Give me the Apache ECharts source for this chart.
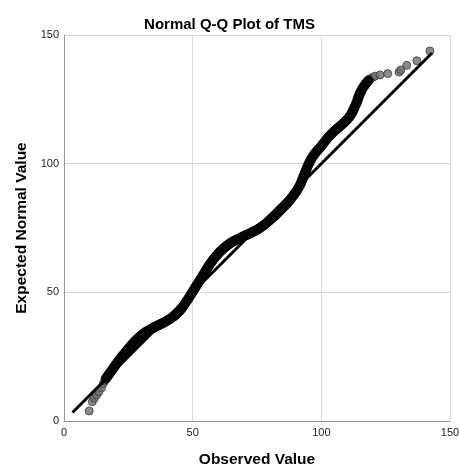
<!DOCTYPE html>
<html><head><meta charset="utf-8">
<script src="https://cdn.jsdelivr.net/npm/echarts@6/dist/echarts.min.js"></script>
<style>html,body{margin:0;padding:0;background:#fff;overflow:hidden}#c{width:459px;height:466px}</style>
</head><body><div id="c"></div>
<script>
// Dense body of the Q-Q plot: observed values (x) and expected normal values (y)
var denseObserved = [16.3,16.8,17.3,17.8,18.3,18.8,19.3,19.8,20.3,20.8,21.3,21.8,22.3,22.8,23.3,23.8,24.3,24.8,25.3,25.8,26.3,26.8,27.3,27.8,28.4,29.0,29.6,30.2,30.8,31.4,32.0,32.7,33.4,34.1,34.8,35.5,36.2,36.9,37.6,38.3,39.0,39.7,40.4,41.1,41.8,42.5,43.2,43.8,44.4,45.0,45.6,46.1,46.6,47.1,47.6,48.1,48.6,49.1,49.6,50.1,50.6,51.1,51.6,52.1,52.6,53.1,53.6,54.1,54.6,55.1,55.6,56.1,56.6,57.1,57.6,58.1,58.7,59.3,59.9,60.5,61.1,61.7,62.4,63.1,63.8,64.5,65.2,66.0,66.8,67.6,68.4,69.2,70.0,70.8,71.6,72.4,73.2,74.0,74.8,75.6,76.4,77.1,77.8,78.5,79.2,79.9,80.6,81.3,82.0,82.7,83.4,84.1,84.8,85.5,86.2,86.9,87.6,88.2,88.8,89.4,90.0,90.5,91.0,91.5,92.0,92.4,92.8,93.2,93.6,94.0,94.4,94.8,95.3,95.8,96.3,96.9,97.5,98.1,98.8,99.5,100.2,100.9,101.6,102.3,103.0,103.7,104.4,105.1,105.8,106.5,107.2,107.9,108.6,109.3,110.0,110.6,111.2,111.7,112.2,112.6,113.0,113.4,113.8,114.1,114.4,114.7,115.0,115.4,115.8,116.3,116.8,117.3,117.8,118.3];
var denseExpected = [16.5,17.2,17.9,18.6,19.3,20.0,20.7,21.4,22.1,22.8,23.5,24.1,24.8,25.4,26.0,26.6,27.2,27.8,28.4,29.0,29.6,30.2,30.7,31.2,31.8,32.4,32.9,33.4,33.9,34.3,34.7,35.1,35.5,35.9,36.3,36.6,37.0,37.3,37.7,38.0,38.4,38.8,39.2,39.6,40.1,40.6,41.1,41.7,42.3,42.9,43.6,44.3,45.0,45.7,46.5,47.2,48.0,48.8,49.6,50.4,51.2,52.0,52.8,53.6,54.4,55.2,56.0,56.8,57.6,58.4,59.2,60.0,60.8,61.5,62.2,62.9,63.6,64.3,65.0,65.6,66.2,66.8,67.4,68.0,68.5,69.0,69.5,69.9,70.3,70.7,71.1,71.5,71.9,72.3,72.6,73.0,73.4,73.8,74.2,74.7,75.2,75.7,76.2,76.8,77.4,78.0,78.6,79.2,79.8,80.5,81.2,81.9,82.6,83.3,84.0,84.8,85.6,86.4,87.2,88.0,88.8,89.6,90.4,91.3,92.3,93.3,94.3,95.3,96.3,97.3,98.3,99.3,100.3,101.3,102.2,103.1,103.9,104.7,105.5,106.2,107.1,108.0,108.9,109.8,110.6,111.3,112.0,112.7,113.3,113.9,114.5,115.1,115.7,116.4,117.1,117.8,118.6,119.4,120.3,121.2,122.1,123.0,123.9,124.8,125.7,126.5,127.3,128.1,128.9,129.7,130.4,131.1,131.7,132.3];
// Sparse tails (individual cases)
var tailObserved = [9.8,11.0,11.8,12.7,13.6,14.6,15.3,15.8,118.9,119.9,120.9,122.8,125.8,130.2,130.9,133.2,137.1,142.2];
var tailExpected = [3.9,7.5,8.8,10.1,11.4,12.9,14.6,15.6,132.9,133.5,134.0,134.5,135.0,135.6,136.4,138.2,140.0,143.8];
// Reference line endpoints
var refX = [3.3, 143.0];
var refY = [3.3, 143.0];
var xTicks = [0, 50, 100, 150];
var yTicks = [0, 50, 100, 150];

function pairs(a, b){ return a.map(function(v,i){return [v, b[i]];}); }

var chart = echarts.init(document.getElementById('c'));
var font = 'Arial, "Liberation Sans", sans-serif';
chart.setOption({
  animation:false,
  title:{text:'Normal Q-Q Plot of TMS', left:'center', top:12,
    textStyle:{fontFamily:font, fontSize:15, fontWeight:'bold', color:'#000'}},
  grid:{left:64, right:9, top:35, bottom:45, containLabel:false, outerBoundsMode:'none'},
  xAxis:{type:'value', min:xTicks[0], max:xTicks[xTicks.length-1], interval:50,
    name:'Observed Value', nameLocation:'middle', nameGap:31,
    nameTextStyle:{fontFamily:font, fontSize:15.5, fontWeight:'bold', color:'#000'},
    axisLine:{show:true, lineStyle:{color:'#999', width:1}},
    axisTick:{show:false},
    axisLabel:{fontFamily:font, fontSize:11, color:'#222', margin:6, hideOverlap:false},
    splitLine:{show:true, lineStyle:{color:'#d9d9d9', width:1}}},
  yAxis:{type:'value', min:yTicks[0], max:yTicks[yTicks.length-1], interval:50,
    name:'Expected Normal Value', nameLocation:'middle', nameGap:32,
    nameTextStyle:{fontFamily:font, fontSize:15.5, fontWeight:'bold', color:'#000'},
    axisLine:{show:true, lineStyle:{color:'#999', width:1}},
    axisTick:{show:false},
    axisLabel:{fontFamily:font, fontSize:11, color:'#222', margin:5},
    splitLine:{show:true, lineStyle:{color:'#d9d9d9', width:1}}},
  series:[
    {type:'scatter', data:pairs(tailObserved, tailExpected), symbol:'circle', symbolSize:8, z:2,
      itemStyle:{color:'#6e6e6e', borderColor:'#3a3a3a', borderWidth:1}},
    {type:'scatter', data:pairs(denseObserved, denseExpected), symbol:'circle', symbolSize:9.5, z:2,
      itemStyle:{color:'#080808', borderColor:'#000', borderWidth:1}},
    {type:'line', data:pairs(refX, refY), symbol:'none', z:3,
      lineStyle:{color:'#000', width:3}}
  ]
});
</script></body></html>
